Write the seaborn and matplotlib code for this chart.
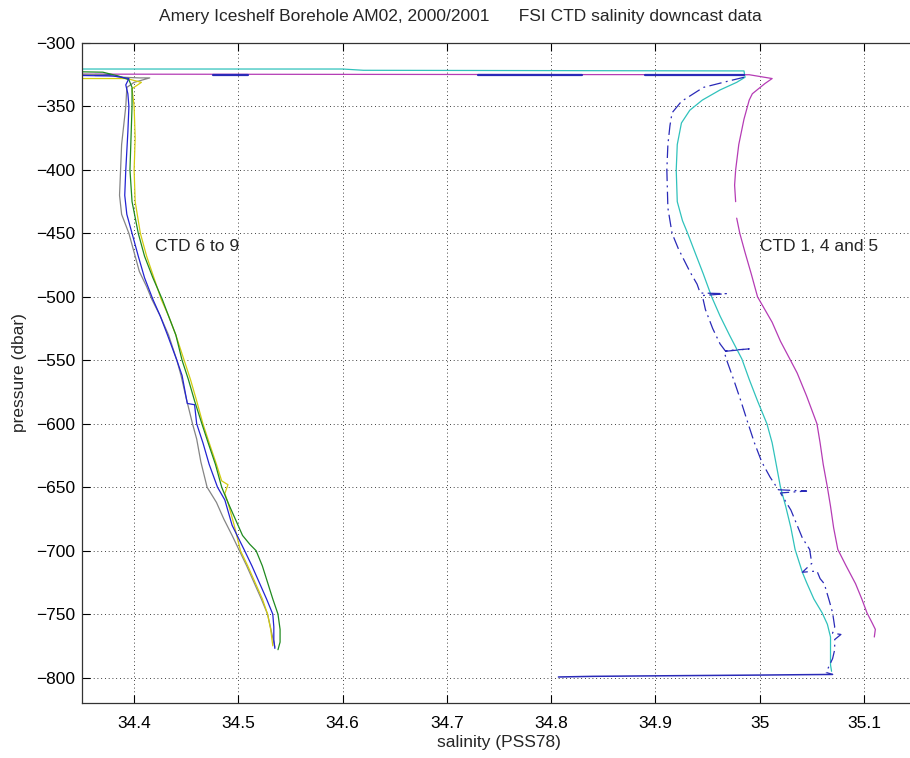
import numpy as np
import pandas as pd
import matplotlib
matplotlib.use("Agg")
import matplotlib.pyplot as plt
import seaborn as sns

# ---------------- data ----------------
# CTD 6 to 9 (left group)
ctd_gray_s = [34.30, 34.37, 34.390, 34.405, 34.415, 34.400, 34.393, 34.392, 34.390, 34.388, 34.387, 34.386, 34.388,
              34.395, 34.400, 34.405, 34.412, 34.417, 34.425, 34.433, 34.441, 34.445, 34.450, 34.456, 34.460, 34.464,
              34.470, 34.479, 34.486, 34.494, 34.501, 34.508, 34.515, 34.522, 34.528, 34.532, 34.535]
ctd_gray_p = [-324, -325, -327, -327.5, -327.5, -331, -335, -350, -365, -380, -400, -420, -435,
              -450, -465, -480, -492, -502, -515, -530, -550, -562, -580, -600, -612, -630,
              -650, -662, -675, -688, -700, -712, -725, -738, -750, -765, -776]

ctd_blue_s = [34.30, 34.380, 34.395, 34.392, 34.394, 34.395, 34.394, 34.392, 34.391, 34.393, 34.398, 34.404, 34.410,
              34.418, 34.425, 34.432, 34.441, 34.446, 34.451, 34.458, 34.460, 34.466, 34.472, 34.480, 34.487, 34.494,
              34.506, 34.513, 34.520, 34.527, 34.533, 34.534, 34.534, 34.535]
ctd_blue_p = [-325, -326, -328, -333, -340, -350, -370, -400, -420, -435, -450, -468, -485,
              -502, -515, -530, -550, -562, -584, -585, -600, -615, -632, -650, -660, -680,
              -700, -712, -725, -738, -750, -760, -770, -777]

ctd_green_s = [34.30, 34.370, 34.385, 34.395, 34.398, 34.398, 34.397, 34.396, 34.398, 34.404, 34.410, 34.418, 34.427,
               34.433, 34.440, 34.446, 34.452, 34.458, 34.465, 34.471, 34.478, 34.484, 34.490, 34.497, 34.504, 34.511,
               34.517, 34.523, 34.528, 34.533, 34.538, 34.540, 34.540, 34.538]
ctd_green_p = [-322, -323, -326, -329, -335, -350, -375, -400, -425, -450, -468, -485, -502,
               -515, -530, -550, -565, -582, -600, -615, -632, -650, -662, -675, -688, -695,
               -700, -712, -725, -738, -750, -762, -772, -778]

ctd_yellow_s = [34.30, 34.370, 34.393, 34.407, 34.398, 34.400, 34.401, 34.400, 34.401, 34.406, 34.412, 34.419, 34.426,
                34.433, 34.440, 34.448, 34.454, 34.460, 34.466, 34.472, 34.479, 34.484, 34.490, 34.487, 34.490, 34.496,
                34.502, 34.509, 34.516, 34.523, 34.528, 34.531, 34.533]
ctd_yellow_p = [-328, -328, -328, -331, -336, -350, -375, -400, -425, -450, -468, -485, -502,
                -515, -530, -550, -565, -582, -600, -615, -632, -645, -648, -655, -662, -680,
                -700, -712, -725, -738, -750, -762, -775]

# CTD 1, 4 and 5 (right group)
ctd_cyan_s = [34.30, 34.60, 34.62, 34.985, 34.986, 34.978, 34.962, 34.945, 34.933, 34.925, 34.921, 34.920, 34.921,
              34.926, 34.931, 34.938, 34.946, 34.954, 34.962, 34.971, 34.983, 34.990, 34.998, 35.007, 35.012, 35.015,
              35.020, 35.025, 35.030, 35.034, 35.041, 35.045, 35.052, 35.060, 35.065, 35.068, 35.068, 35.068, 35.069]
ctd_cyan_p = [-320.5, -320.5, -321.5, -322, -327, -331, -337, -345, -353, -363, -380, -400, -425,
              -440, -450, -465, -482, -500, -515, -530, -549, -565, -582, -600, -615, -628,
              -650, -665, -682, -699, -717, -725, -738, -749, -758, -768, -780, -790, -795]

ctd_magenta_upper_s = [34.30, 34.99, 35.012, 35.005, 34.993, 34.990, 34.985, 34.980, 34.977, 34.976, 34.977]
ctd_magenta_upper_p = [-324.5, -325, -328, -332, -340, -345, -360, -380, -400, -412, -425]
ctd_magenta_lower_s = [34.978, 34.981, 34.986, 34.992, 34.998, 35.005, 35.012, 35.020, 35.029, 35.036, 35.045,
                       35.055, 35.058, 35.061, 35.065, 35.068, 35.071, 35.075, 35.083, 35.092, 35.098, 35.103,
                       35.108, 35.111, 35.110]
ctd_magenta_lower_p = [-438, -450, -465, -482, -500, -510, -520, -535, -549, -560, -578,
                       -600, -615, -632, -650, -665, -682, -699, -712, -726, -738, -749,
                       -757, -762, -768]

ctd_dblue_s = [34.985, 34.970, 34.946, 34.925, 34.916, 34.914, 34.912, 34.911, 34.912, 34.916, 34.922, 34.933,
               34.940, 34.943, 34.968, 34.945, 34.948, 34.955, 34.962, 34.967, 34.990, 34.966, 34.968, 34.975,
               34.982, 34.989, 34.995, 35.002, 35.010, 35.018, 35.045, 35.020, 35.030, 35.036, 35.041, 35.048,
               35.050, 35.041, 35.055, 35.058, 35.062, 35.067, 35.070, 35.072, 35.070, 35.078, 35.072, 35.072,
               35.070, 35.066, 35.064, 35.070, 35.040, 35.000, 34.950, 34.900, 34.840, 34.807]
ctd_dblue_p = [-327, -330, -335, -346, -355, -365, -380, -400, -430, -450, -462, -480,
               -490, -497, -497.5, -499, -510, -525, -537, -542.5, -541, -543, -549, -565,
               -582, -600, -615, -630, -642, -652, -653, -654.5, -668, -680, -690, -699,
               -710, -717, -716, -722, -726, -740, -749, -760, -765, -766, -770, -778,
               -785, -792, -796, -797.5, -797.7, -798, -798.3, -798.6, -799, -799.5]
# surface segments of the dash-dot cast lying on the top horizontal
dblue_top_start = [34.362, 34.476, 34.730, 34.890]
dblue_top_end = [34.377, 34.509, 34.830, 34.985]
dblue_top_p = -325.5

title_text = "Amery Iceshelf Borehole AM02, 2000/2001      FSI CTD salinity downcast data"
x_ticks = [34.4, 34.5, 34.6, 34.7, 34.8, 34.9, 35.0, 35.1]
x_tick_labels = ["34.4", "34.5", "34.6", "34.7", "34.8", "34.9", "35", "35.1"]
y_ticks = [-300, -350, -400, -450, -500, -550, -600, -650, -700, -750, -800]

# ---------------- style ----------------
sns.set_style("ticks")
plt.rcParams["font.family"] = ["Liberation Sans", "DejaVu Sans"]
plt.rcParams["font.size"] = 12.5

fig = plt.figure(figsize=(9.10, 7.58), dpi=100)
ax = fig.add_axes([82 / 910, 1 - 703 / 758, (916 - 82) / 910, (703 - 43) / 758])


def draw(s, p, color, ls="-", lw=0.9):
    df = pd.DataFrame({"salinity": s, "pressure": p})
    sns.lineplot(data=df, x="salinity", y="pressure", sort=False, estimator=None,
                 color=color, linewidth=lw, linestyle=ls, ax=ax, legend=False)


c_gray = "#858585"
c_blue = "#2323d2"
c_green = "#1f8a1f"
c_yellow = "#d2cc10"
c_cyan = "#30c2bc"
c_dblue = "#2a2ab8"
c_mag = "#b53cb5"

draw(ctd_cyan_s, ctd_cyan_p, c_cyan)
draw(ctd_magenta_upper_s, ctd_magenta_upper_p, c_mag)
draw(ctd_magenta_lower_s, ctd_magenta_lower_p, c_mag)
for a, b in zip(dblue_top_start, dblue_top_end):
    draw([a, b], [dblue_top_p, dblue_top_p], c_dblue, lw=1.6)
draw(ctd_dblue_s[:52], ctd_dblue_p[:52], c_dblue, ls=(0, (10, 3.5, 1.5, 3.5)))
draw(ctd_dblue_s[51:], ctd_dblue_p[51:], c_dblue, lw=1.1)

draw(ctd_gray_s, ctd_gray_p, c_gray)
draw(ctd_yellow_s, ctd_yellow_p, c_yellow)
draw(ctd_green_s, ctd_green_p, c_green)
draw(ctd_blue_s, ctd_blue_p, c_blue)

ax.set_xlim(34.35, 35.15)
ax.set_ylim(-820, -300)
ax.set_xticks(x_ticks)
ax.set_xticklabels(x_tick_labels)
ax.set_yticks(y_ticks)
ax.grid(True, color="black", linestyle=(0, (1, 3.5)), linewidth=0.6)
ax.tick_params(direction="in", length=6, width=0.8, top=True, right=False, labelsize=12.5, colors="black")
ax.tick_params(axis="x", pad=9)
ax.tick_params(axis="y", pad=5)
for sp in ax.spines.values():
    sp.set_linewidth(0.9)
    sp.set_color("#333333")
ax.spines["right"].set_visible(False)

ax.set_xlabel("salinity (PSS78)", fontsize=12.5, labelpad=3)
ax.set_ylabel("pressure (dbar)", fontsize=12.5, labelpad=6)

ax.text(34.42, -460, "CTD 6 to 9", fontsize=12.5, va="center", ha="left")
ax.text(35.0, -460, "CTD 1, 4 and 5", fontsize=12.5, va="center", ha="left")

fig.text(460 / 910, 1 - 16 / 758, title_text, ha="center", va="center", fontsize=12.5)

fig.savefig("out.png", dpi=100)
